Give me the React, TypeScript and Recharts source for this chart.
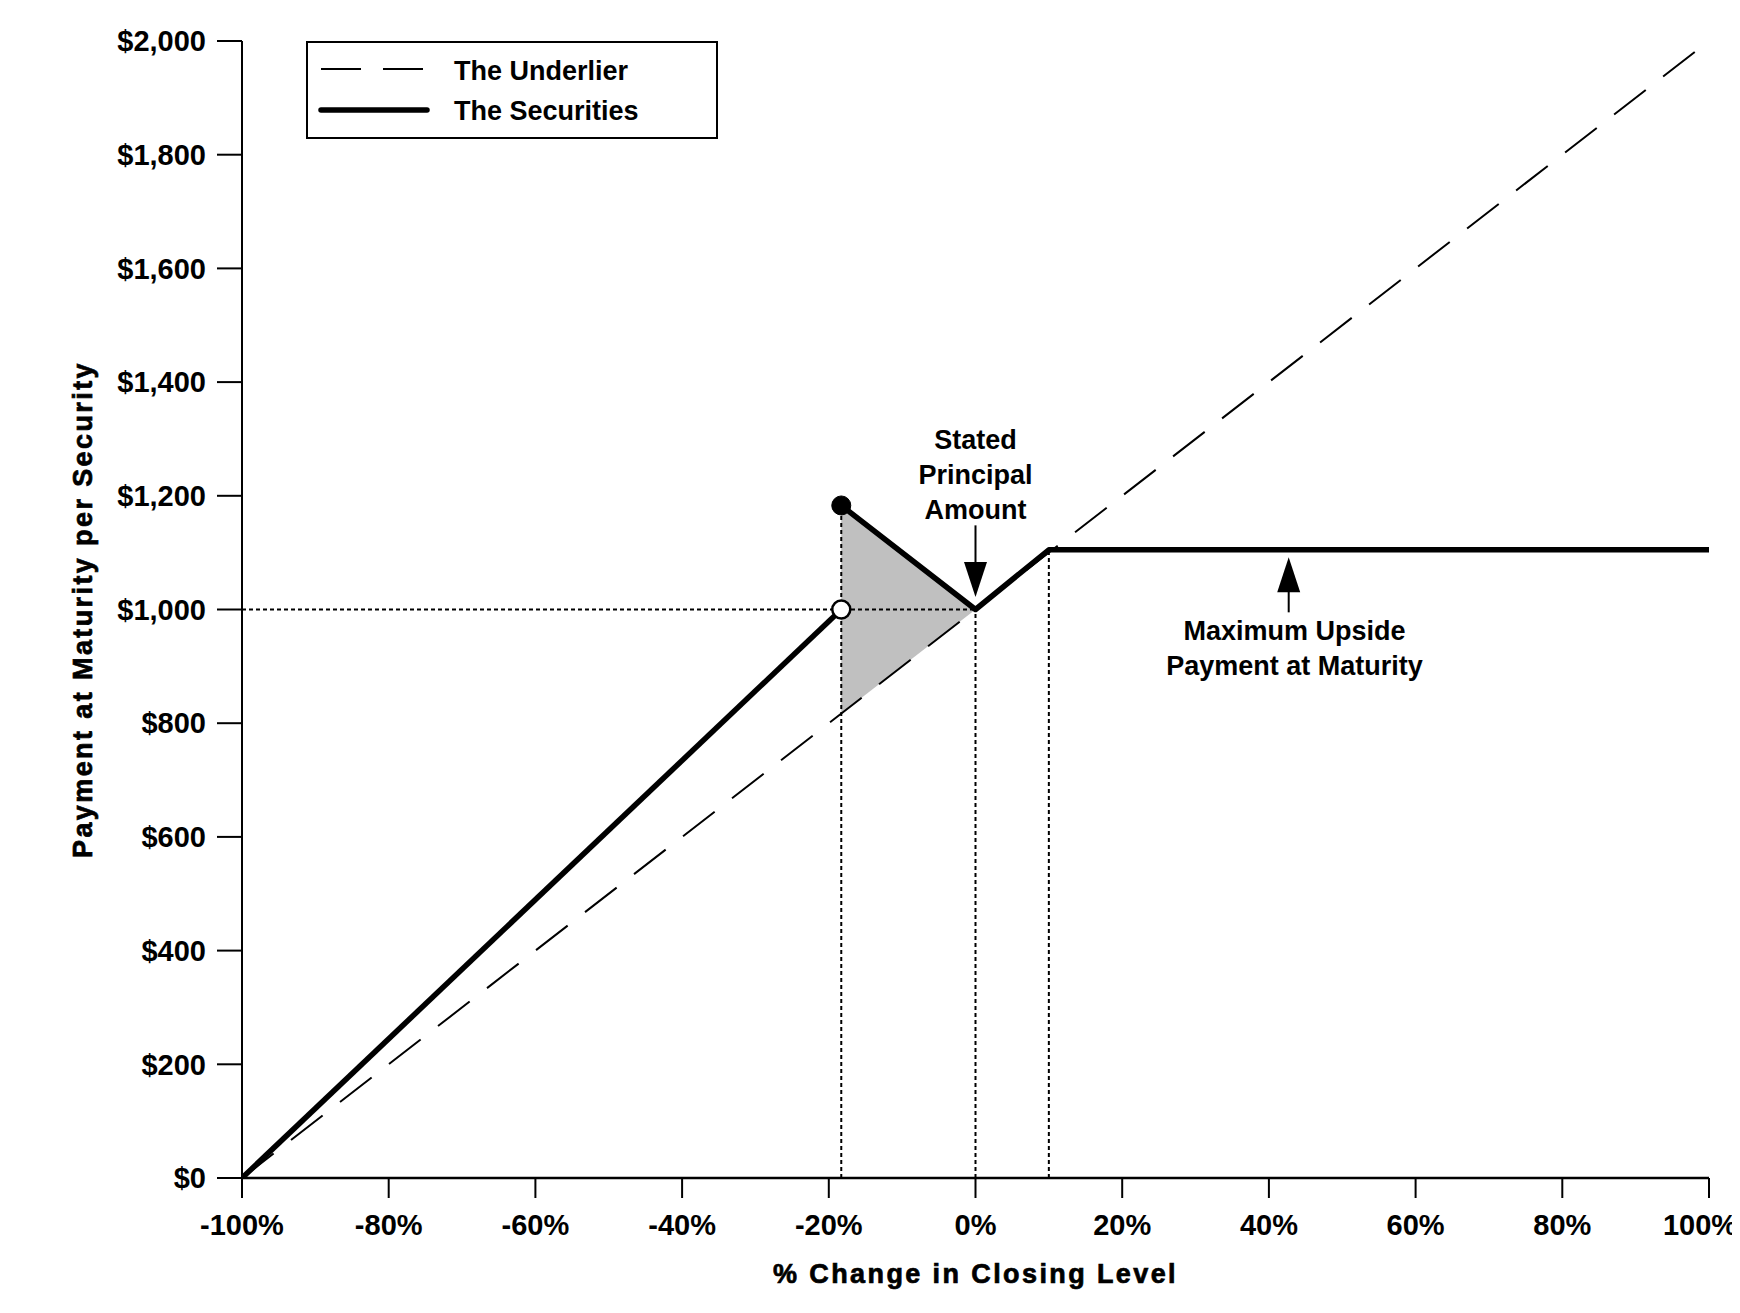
import React from "react";
import {
  ComposedChart,
  Line,
  Area,
  XAxis,
  YAxis,
  Legend,
  ReferenceLine,
  ReferenceDot,
} from "recharts";

// % change in closing level -> payment at maturity per $1,000 security
const pctTicks = [-100, -80, -60, -40, -20, 0, 20, 40, 60, 80, 100];
const payTicks = [0, 200, 400, 600, 800, 1000, 1200, 1400, 1600, 1800, 2000];

const underlier = [
  { x: -100, y: 0 },
  { x: 100, y: 2000 },
];
const securitiesBelow = [
  { x: -100, y: 0 },
  { x: -18.3, y: 1000 },
];
const securitiesAbove = [
  { x: -18.3, y: 1183 },
  { x: 0, y: 1000 },
  { x: 10, y: 1105 },
  { x: 100, y: 1105 },
];
const shaded = [
  { x: -18.3, band: [817, 1183] },
  { x: 0, band: [1000, 1000] },
];

const statedLabel = ["Stated", "Principal", "Amount"];
const maxLabel = ["Maximum Upside", "Payment at Maturity"];

const FONT = '"Liberation Sans", Arial, Helvetica, sans-serif';
const dotted = "4 3";

const money = (v: number) => `$${v.toLocaleString("en-US")}`;

const textBlock = (lines: string[]) => (props: any) => (
  <text
    x={props.cx}
    y={props.cy}
    textAnchor="middle"
    fontFamily={FONT}
    fontSize={27}
    fontWeight="bold"
    fill="#000"
  >
    {lines.map((l, i) => (
      <tspan key={l} x={props.cx} dy={i === 0 ? 0 : 35}>
        {l}
      </tspan>
    ))}
  </text>
);

const arrowHead = (dir: "up" | "down") => (props: any) => {
  const { cx, cy } = props;
  const h = dir === "down" ? -35 : 35;
  return (
    <polygon
      points={`${cx},${cy} ${cx - 11.5},${cy + h} ${cx + 11.5},${cy + h}`}
      fill="#000"
    />
  );
};

const LegendBox = () => (
  <svg width={412} height={98} style={{ display: "block" }}>
    <rect x={1} y={1} width={410} height={96} fill="#fff" stroke="#000" strokeWidth={2} />
    <line x1={15} y1={28} x2={117} y2={28} stroke="#000" strokeWidth={2} strokeDasharray="40 22" />
    <text x={148} y={39} fontFamily={FONT} fontSize={27} fontWeight="bold" fill="#000">
      The Underlier
    </text>
    <line x1={15} y1={69} x2={121} y2={69} stroke="#000" strokeWidth={5.5} strokeLinecap="round" />
    <text x={148} y={79} fontFamily={FONT} fontSize={27} fontWeight="bold" fill="#000">
      The Securities
    </text>
  </svg>
);

const YTitle = (props: any) => {
  const { x, y, height } = props.viewBox;
  const cx = x + 84;
  const cy = y + height / 2;
  return (
    <text
      x={cx}
      y={cy}
      transform={`rotate(-90 ${cx} ${cy})`}
      textAnchor="middle"
      fontFamily={FONT}
      fontSize={27}
      fontWeight="bold"
      letterSpacing={2.4}
      stroke="#000"
      strokeWidth={0.7}
      fill="#000"
    >
      Payment at Maturity per Security
    </text>
  );
};

const XTitle = (props: any) => {
  const { x, y, width } = props.viewBox;
  return (
    <text
      x={x + width / 2}
      y={y + 105}
      textAnchor="middle"
      fontFamily={FONT}
      fontSize={27}
      fontWeight="bold"
      letterSpacing={2.4}
      stroke="#000"
      strokeWidth={0.7}
      fill="#000"
    >
      % Change in Closing Level
    </text>
  );
};

// the last label is nudged inward so it stays on the page, as in the original
const PctTick = (props: any) => {
  const { x, y, payload } = props;
  const v = payload.value;
  return (
    <text
      x={v === 100 ? x - 9 : x}
      y={y}
      dy="0.71em"
      textAnchor="middle"
      fontFamily={FONT}
      fontSize={29}
      fontWeight="bold"
      fill="#000"
    >
      {`${v}%`}
    </text>
  );
};

const tickStyle = { fontSize: 29, fontWeight: "bold", fill: "#000", fontFamily: FONT };

export default function App() {
  return (
    <div style={{ width: 1732, height: 1297, background: "#fff" }}>
      <ComposedChart
        width={1732}
        height={1297}
        margin={{ top: 33, right: 31, left: 0, bottom: 0 }}
        style={{ fontFamily: FONT }}
      >
        <XAxis
          type="number"
          dataKey="x"
          domain={[-100, 100]}
          ticks={pctTicks}
          height={127}
          tick={PctTick}
          tickSize={20}
          tickMargin={16}
          axisLine={{ stroke: "#000", strokeWidth: 2.5 }}
          tickLine={{ stroke: "#000", strokeWidth: 2 }}
          interval={0}
          allowDataOverflow
          label={{ content: XTitle }}
        />
        <YAxis
          type="number"
          domain={[0, 2000]}
          ticks={payTicks}
          tickFormatter={money}
          width={234}
          tick={tickStyle}
          tickSize={25}
          tickMargin={11}
          axisLine={{ stroke: "#000", strokeWidth: 2 }}
          tickLine={{ stroke: "#000", strokeWidth: 2 }}
          interval={0}
          allowDataOverflow
          label={{ content: YTitle }}
        />
        <Legend
          layout="vertical"
          verticalAlign="middle"
          align="center"
          content={LegendBox}
          wrapperStyle={{ position: "absolute", left: 298, top: 33, width: 412, height: 98 }}
        />

        <Area
          data={shaded}
          dataKey="band"
          type="linear"
          fill="#c0c0c0"
          fillOpacity={1}
          stroke="none"
          isAnimationActive={false}
        />

        <ReferenceLine segment={[{ x: -100, y: 1000 }, { x: 0, y: 1000 }]} stroke="#000" strokeWidth={2} strokeDasharray={dotted} />
        <ReferenceLine segment={[{ x: -18.3, y: 0 }, { x: -18.3, y: 1183 }]} stroke="#000" strokeWidth={2} strokeDasharray={dotted} />
        <ReferenceLine segment={[{ x: 0, y: 0 }, { x: 0, y: 1000 }]} stroke="#000" strokeWidth={2} strokeDasharray={dotted} />
        <ReferenceLine segment={[{ x: 10, y: 0 }, { x: 10, y: 1105 }]} stroke="#000" strokeWidth={2} strokeDasharray={dotted} />

        <Line
          data={underlier}
          dataKey="y"
          type="linear"
          stroke="#000"
          strokeWidth={2}
          strokeDasharray="40 22"
          dot={false}
          activeDot={false}
          isAnimationActive={false}
        />
        <Line
          data={securitiesBelow}
          dataKey="y"
          type="linear"
          stroke="#000"
          strokeWidth={5.5}
          dot={false}
          activeDot={false}
          isAnimationActive={false}
        />
        <Line
          data={securitiesAbove}
          dataKey="y"
          type="linear"
          stroke="#000"
          strokeWidth={5.5}
          strokeLinejoin="round"
          dot={false}
          activeDot={false}
          isAnimationActive={false}
        />

        <ReferenceLine segment={[{ x: 0, y: 1148 }, { x: 0, y: 1083 }]} stroke="#000" strokeWidth={2} />
        <ReferenceDot x={0} y={1022} r={1} shape={arrowHead("down")} />
        <ReferenceDot x={0} y={1282} r={1} shape={textBlock(statedLabel)} />

        <ReferenceLine segment={[{ x: 42.7, y: 1032 }, { x: 42.7, y: 995 }]} stroke="#000" strokeWidth={2} />
        <ReferenceDot x={42.7} y={1092} r={1} shape={arrowHead("up")} />
        <ReferenceDot x={43.5} y={946} r={1} shape={textBlock(maxLabel)} />

        <ReferenceDot x={-18.3} y={1000} r={9} fill="#fff" stroke="#000" strokeWidth={2.5} />
        <ReferenceDot x={-18.3} y={1183} r={9.5} fill="#000" stroke="#000" strokeWidth={1} />
      </ComposedChart>
    </div>
  );
}
